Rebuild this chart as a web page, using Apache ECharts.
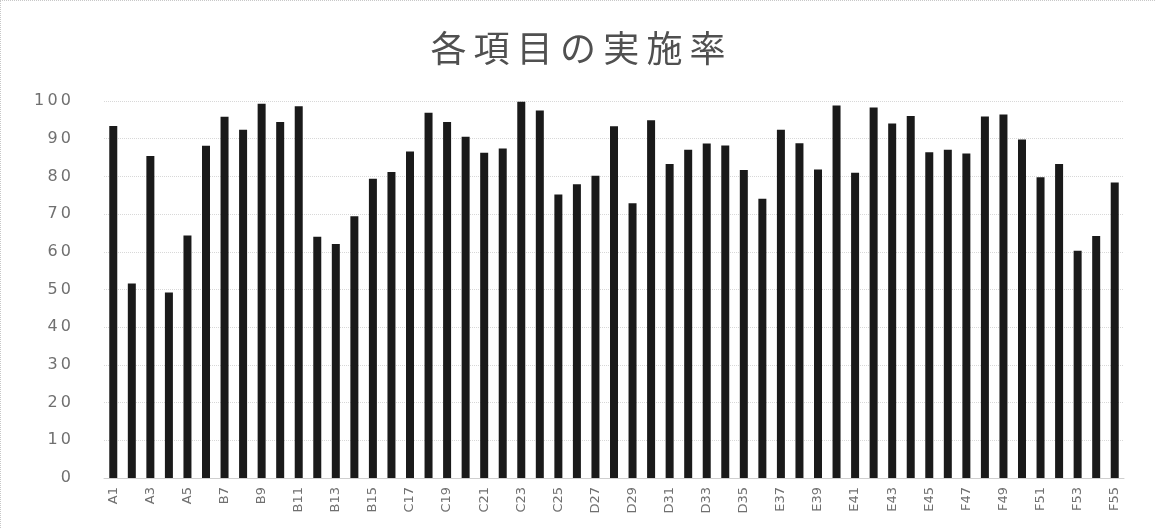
<!DOCTYPE html>
<html>
<head>
<meta charset="utf-8">
<script src="https://cdn.jsdelivr.net/npm/echarts@6/dist/echarts.min.js"></script>
<style>
  html, body { margin: 0; padding: 0; background: #fff; }
  #chart {
    width: 1155px;
    height: 528px;
    box-sizing: border-box;
    border-left: 1px dotted #c8c8c8;
    border-top: 1px dotted #c8c8c8;
  }
</style>
</head>
<body>
<div id="chart"></div>
<script>
// 項目 (A1..F55)
const categories = [
  'A1', 'A2', 'A3', 'A4', 'A5', 'A6',
  'B7', 'B8', 'B9', 'B10', 'B11', 'B12', 'B13', 'B14', 'B15', 'B16',
  'C17', 'C18', 'C19', 'C20', 'C21', 'C22', 'C23', 'C24', 'C25', 'C26',
  'D27', 'D28', 'D29', 'D30', 'D31', 'D32', 'D33', 'D34', 'D35', 'D36',
  'E37', 'E38', 'E39', 'E40', 'E41', 'E42', 'E43', 'E44', 'E45', 'E46',
  'F47', 'F48', 'F49', 'F50', 'F51', 'F52', 'F53', 'F54', 'F55'
]

// 実施率 (%)
const rates = [
  93.4, 51.6, 85.4, 49.2, 64.3, 88.1,
  95.8, 92.4, 99.3, 94.4, 98.6, 64.0, 62.1, 69.4, 79.4, 81.2,
  86.6, 96.9, 94.4, 90.5, 86.3, 87.4, 99.8, 97.5, 75.2, 77.9,
  80.2, 93.3, 72.9, 94.9, 83.3, 87.1, 88.7, 88.2, 81.7, 74.1,
  92.4, 88.8, 81.8, 98.8, 81.0, 98.3, 94.0, 96.0, 86.4, 87.1,
  86.1, 95.9, 96.4, 89.8, 79.8, 83.3, 60.3, 64.2, 78.4
]

const yTicks = [0, 10, 20, 30, 40, 50, 60, 70, 80, 90, 100]

const titleText = '各項目の実施率'

// spread characters a little, like the original's wide lettering
const spaced = (s) => String(s).split('').join('\u2009')

const chart = echarts.init(document.getElementById('chart'))

const option = {
  animation: false,
  title: {
    text: spaced(titleText),
    left: 'center',
    top: 24,
    textStyle: {
      fontFamily: 'Noto Sans CJK JP',
      fontSize: 36,
      fontWeight: 'normal',
      color: '#505050',
    },
  },
  grid: {
    left: 103,
    right: 31,
    top: 100,
    bottom: 50,
  },
  xAxis: {
    type: 'category',
    data: categories,
    axisLine: { lineStyle: { color: '#cfcfcf' } },
    axisTick: { show: false },
    axisLabel: {
      interval: 1,
      rotate: 90,
      color: '#707070',
      fontSize: 13,
      fontFamily: 'DejaVu Sans',
      margin: 9,
    },
  },
  yAxis: {
    type: 'value',
    min: yTicks[0],
    max: yTicks[yTicks.length - 1],
    interval: 10,
    axisLine: { show: false },
    axisTick: { show: false },
    splitLine: {
      lineStyle: { color: '#d8d8d8', type: 'dotted' },
    },
    axisLabel: {
      color: '#707070',
      fontSize: 16,
      fontFamily: 'DejaVu Sans',
      margin: 33,
      formatter: (v) => spaced(v),
    },
  },
  series: [
    {
      name: '実施率',
      type: 'bar',
      barWidth: 8,
      itemStyle: { color: '#1a1a1a' },
      data: rates,
    },
  ],
}

chart.setOption(option)
</script>
</body>
</html>
